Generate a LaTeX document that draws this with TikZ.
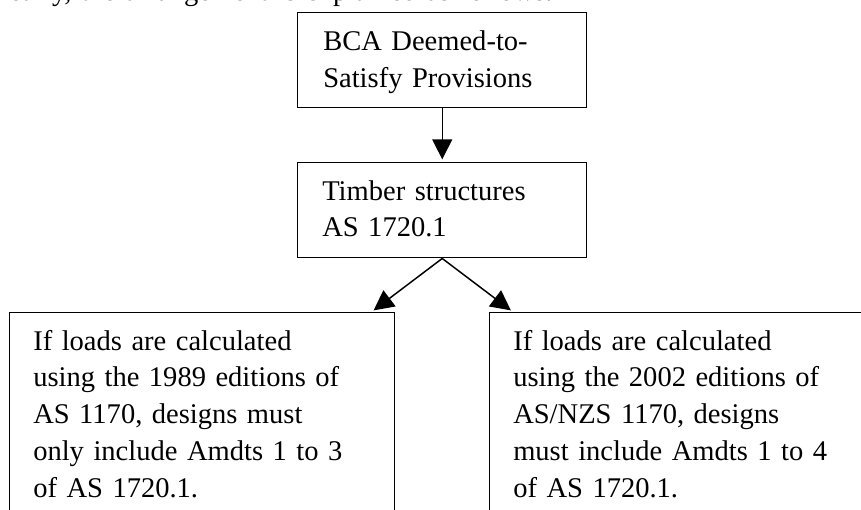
\documentclass[tikz,border=0pt]{standalone}
\usepackage{fontspec}
\setmainfont{Liberation Serif}
\usepackage{tikz}
\usetikzlibrary{shapes,arrows.meta,positioning}

\tikzset{
    box/.style={
        draw,
        line width=1.1pt,
        rectangle,
        inner sep=0pt,
        anchor=north west
        },
    boxtext/.style={
        anchor=base west,
        inner sep=0pt,
        text width=280pt,
        align=left,
        font=\fontsize{21.4}{27.6}\selectfont
        },
    arrow/.style={
        line width=1.1pt,
        -{Triangle[length=15pt,width=15pt]},
        shorten >=2pt
        }
}

\begin{document}
\begin{tikzpicture}[x=0.75pt,y=-0.75pt]
                \useasboundingbox (0,0) rectangle (861,510);
                \clip (0,0) rectangle (861,510);

                % line of the page text above, cut off
                \node[boxtext, text width=500pt] (intro) at (-18,1)
                    {Clearly, the arrangement is explained as follows.};

                % boxes
                \node[box, minimum width=216.75pt, minimum height=71.25pt] (bca) at (297,12) {};
                \node[box, minimum width=216.75pt, minimum height=71.25pt] (timber) at (297,162) {};
                \node[box, minimum width=288.75pt, minimum height=200pt] (old) at (9,312) {};
                \node[box, minimum width=300pt, minimum height=200pt] (new) at (489,312) {};

                % texts
                \node[boxtext] (bca-text) at ([shift={(26,39)}]bca.north west)
                    {BCA Deemed-to-\\Satisfy Provisions};
                \node[boxtext] (timber-text) at ([shift={(25,38)}]timber.north west)
                    {Timber structures\\AS 1720.1};
                \node[boxtext] (old-text) at ([shift={(24,38)}]old.north west)
                    {If loads are calculated\\using the 1989 editions of\\AS 1170, designs must\\only include Amdts 1 to 3\\of AS 1720.1.};
                \node[boxtext] (new-text) at ([shift={(24,38)}]new.north west)
                    {If loads are calculated\\using the 2002 editions of\\AS/NZS 1170, designs\\must include Amdts 1 to 4\\of AS 1720.1.};

                % arrows
                \draw[arrow] (bca.south) -- (timber.north);
                \draw[arrow] (timber.south) -- ([xshift=-18pt]old.north east);
                \draw[arrow] (timber.south) -- ([xshift=18pt]new.north west);
\end{tikzpicture}
\end{document}
